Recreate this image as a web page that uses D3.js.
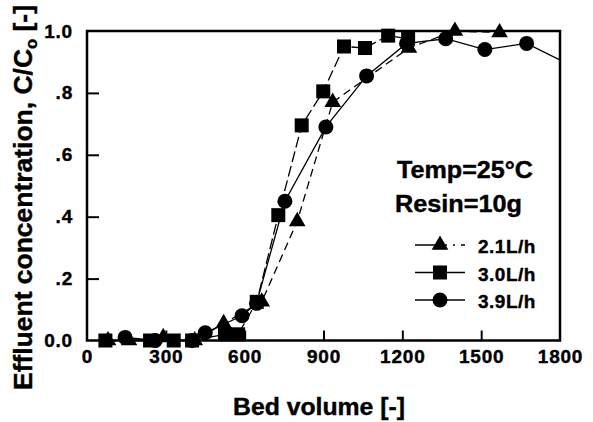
<!DOCTYPE html>
<html><head><meta charset="utf-8">
<script src="https://cdn.jsdelivr.net/npm/d3@7/dist/d3.min.js"></script>
<style>
html,body{margin:0;padding:0;background:#fff;}
svg text{font-family:"Liberation Sans",Arial,Helvetica,sans-serif;font-weight:bold;fill:#000;stroke:#000;stroke-width:0.4px;}
</style></head>
<body><svg id="c" width="593" height="422"></svg>
<script>
const xTicks = [0,300,600,900,1200,1500,1800];
const yTicks = [0,0.2,0.4,0.6,0.8,1.0];
const yTickLabels = ["0.0",".2",".4",".6",".8","1.0"];
const seriesNames = ["2.1L/h","3.0L/h","3.9L/h"];

const triX = [80,160,290,410,520,665,800,935,1225,1400,1570];
const triY = [0,0,0.01,0,0.055,0.125,0.385,0.77,0.945,1.0,0.995];
const sqX = [70,240,330,400,525,575,646,728,817,899,978,1058,1146,1222];
const sqY = [0,0,0,0,0.02,0.02,0.125,0.405,0.695,0.805,0.95,0.945,0.985,0.975];
const ciX = [145,260,400,450,590,645,753,909,1064,1216,1365,1514,1673,1850];
const ciY = [0.01,0,0,0.025,0.08,0.12,0.45,0.69,0.855,0.96,0.975,0.94,0.96,0.885];

const svg = d3.select("#c");
const L = 87, R = 560, T = 31, B = 340.5;
const x = d3.scaleLinear().domain([0,1800]).range([L,R]);
const y = d3.scaleLinear().domain([0,1]).range([B,T]);

const xa = svg.append("g").attr("transform",`translate(0,${B})`)
  .call(d3.axisBottom(x).tickValues(xTicks).tickSize(-10).tickSizeOuter(0).tickPadding(9).tickFormat(d3.format("d")));
const ya = svg.append("g").attr("transform",`translate(${L},0)`)
  .call(d3.axisLeft(y).tickValues(yTicks).tickSize(-12).tickSizeOuter(0).tickPadding(14).tickFormat((d,i)=>yTickLabels[i]));
[xa,ya].forEach(g=>{
  g.select(".domain").remove();
  g.selectAll(".tick line").attr("stroke","#000").attr("stroke-width",2);
  g.selectAll(".tick text").attr("font-size",19).attr("letter-spacing",0.8)
    .style("font-family","'Liberation Sans',Arial,sans-serif").style("font-weight","bold").attr("fill","#000");
});
xa.selectAll(".tick").filter(d=>d===0||d===1800).select("line").remove();
ya.selectAll(".tick").filter(d=>d===0||d===1).select("line").remove();

svg.append("rect").attr("x",L).attr("y",T).attr("width",R-L).attr("height",B-T)
  .attr("fill","none").attr("stroke","#000").attr("stroke-width",2.5);

svg.append("clipPath").attr("id","clp").append("rect").attr("x",0).attr("y",0).attr("width",R).attr("height",422);

const series = [
  {name:seriesNames[0], xs:triX, ys:triY, shape:"tri", dash:"8,5", legDash:"22,4,6,6,2,6"},
  {name:seriesNames[1], xs:sqX, ys:sqY, shape:"sq", dash:"11,4", legDash:null},
  {name:seriesNames[2], xs:ciX, ys:ciY, shape:"ci", dash:null, legDash:null}
];

function marker(g, shape, cx, cy){
  if(shape==="tri"){
    g.append("path").attr("d",d3.symbol(d3.symbolTriangle,120)()).attr("transform",`translate(${cx},${cy})`).attr("fill","#000");
  } else if(shape==="sq"){
    g.append("rect").attr("x",cx-7).attr("y",cy-7).attr("width",14).attr("height",14).attr("fill","#000");
  } else {
    g.append("circle").attr("cx",cx).attr("cy",cy).attr("r",7.5).attr("fill","#000");
  }
}

const plot = svg.append("g").attr("clip-path","url(#clp)");
const line = d3.line().x(d=>x(d[0])).y(d=>y(d[1]));
series.forEach(s=>{
  const pts = s.xs.map((v,i)=>[v,s.ys[i]]);
  plot.append("path").attr("d",line(pts)).attr("fill","none").attr("stroke","#000")
    .attr("stroke-width",1.3).attr("stroke-dasharray",s.dash);
});
series.forEach(s=>{
  s.xs.forEach((v,i)=>{ if(v<=1800) marker(plot, s.shape, x(v), y(s.ys[i])); });
});

svg.append("text").attr("x",397).attr("y",178).attr("font-size",23).attr("textLength",136).attr("lengthAdjust","spacingAndGlyphs")
  .text("Temp=25°C");
svg.append("text").attr("x",395).attr("y",212).attr("font-size",23).attr("textLength",127).attr("lengthAdjust","spacingAndGlyphs")
  .text("Resin=10g");

const legY = [245,272.5,300];
series.forEach((s,i)=>{
  const g = svg.append("g");
  g.append("line").attr("x1",415).attr("x2",465).attr("y1",legY[i]).attr("y2",legY[i])
    .attr("stroke","#000").attr("stroke-width",1.3).attr("stroke-dasharray",s.legDash);
  marker(g, s.shape, 440, legY[i]);
  g.append("text").attr("x",478).attr("y",legY[i]+8).attr("font-size",19).attr("letter-spacing",0.5).text(s.name);
});

svg.append("text").attr("x",233).attr("y",415).attr("font-size",23).attr("textLength",172).attr("lengthAdjust","spacingAndGlyphs")
  .text("Bed volume [-]");
const yt = svg.append("text").attr("transform","translate(32,390) rotate(-90)").attr("font-size",25.5)
  .attr("textLength",385).attr("lengthAdjust","spacingAndGlyphs");
yt.append("tspan").text("Effluent concentration, C/C");
yt.append("tspan").attr("font-size",16).attr("dy",5).text("o");
yt.append("tspan").attr("dy",-5).text(" [-]");
</script></body></html>
